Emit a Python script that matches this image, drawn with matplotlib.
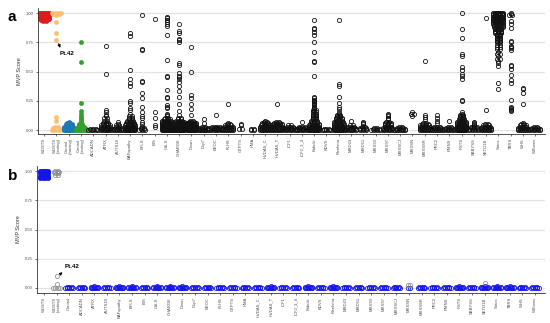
import numpy as np
import matplotlib
matplotlib.use("Agg")
import matplotlib.pyplot as plt

plt.rcParams['font.family'] = ['Liberation Sans', 'DejaVu Sans']

# ---------------- panel a ----------------
cats_a = ['WDSTS', 'WDSTS\n(testing)', 'Control\n(training)', 'Control\n(testing)', 'ADCADN',
          'ATRX', 'AUTS18', 'BAFopathy', 'BFLS', 'BIS', 'CdLS', 'CHARGE', 'Down', 'Dup7',
          'EEOC', 'FLHS', 'GTPTS', 'HMA', 'HVDAS_C', 'HVDAS_T', 'ICF1', 'ICF2_3_4', 'Kabuki',
          'KDVS', 'Kleefstra', 'MRD23', 'MRD51', 'MRX93', 'MRX97', 'MRXSCJ', 'MRXSN',
          'MRXSSR', 'PRC2', 'RMNS', 'RSTS', 'SBBYSS', 'SETD1B', 'Sotos', 'TBRS', 'WHS',
          'Williams']

# each entry: list of (MVP score, number of samples at that score)
scores_a = [
    [(1.00, 9), (0.99, 8), (0.98, 7), (0.97, 6), (0.96, 5), (0.95, 4), (0.94, 3), (0.93, 2)],
    [(1.00, 4), (0.99, 3), (0.98, 1), (0.92, 1), (0.83, 1), (0.77, 1), (0.11, 1), (0.08, 1),
     (0.03, 2), (0.02, 3), (0.01, 3), (0.00, 4)],
    [(0.07, 1), (0.06, 2), (0.05, 3), (0.04, 3), (0.03, 4), (0.02, 6), (0.01, 8), (0.00, 10)],
    [(0.75, 1), (0.58, 1), (0.23, 1), (0.16, 1), (0.14, 1), (0.12, 1), (0.10, 1), (0.09, 1),
     (0.08, 1), (0.07, 1), (0.06, 1), (0.05, 2), (0.04, 2), (0.03, 3), (0.02, 4), (0.01, 6),
     (0.00, 9)],
    [(0.01, 3), (0.00, 5)],
    [(0.72, 1), (0.48, 1), (0.17, 1), (0.15, 1), (0.13, 1), (0.12, 1), (0.10, 2), (0.08, 2),
     (0.06, 3), (0.05, 3), (0.04, 4), (0.03, 4), (0.02, 5), (0.01, 5), (0.00, 6)],
    [(0.07, 1), (0.05, 1), (0.04, 2), (0.03, 2), (0.02, 3), (0.01, 4), (0.00, 6)],
    [(0.83, 1), (0.80, 1), (0.51, 1), (0.44, 1), (0.40, 1), (0.38, 1), (0.25, 1), (0.23, 1),
     (0.19, 1), (0.17, 1), (0.14, 1), (0.12, 2), (0.10, 2), (0.09, 2), (0.08, 3), (0.07, 3),
     (0.06, 4), (0.05, 4), (0.04, 5), (0.03, 6), (0.02, 7), (0.01, 8), (0.00, 9)],
    [(0.98, 1), (0.69, 1), (0.68, 1), (0.42, 1), (0.41, 1), (0.32, 1), (0.27, 1), (0.20, 1),
     (0.15, 1), (0.12, 1), (0.10, 1), (0.07, 1), (0.05, 1), (0.03, 1), (0.02, 2), (0.01, 2),
     (0.00, 3)],
    [(0.95, 1), (0.15, 1), (0.10, 1), (0.04, 1), (0.03, 1)],
    [(0.97, 1), (0.96, 1), (0.94, 1), (0.92, 1), (0.91, 1), (0.89, 1), (0.81, 1), (0.60, 1),
     (0.46, 1), (0.45, 1), (0.34, 1), (0.28, 1), (0.27, 1), (0.21, 1), (0.20, 1), (0.19, 1),
     (0.14, 1), (0.13, 1), (0.12, 1), (0.10, 2), (0.09, 3), (0.08, 4), (0.07, 5), (0.06, 6),
     (0.05, 7), (0.04, 8), (0.03, 9), (0.02, 10), (0.01, 10), (0.00, 10)],
    [(0.91, 1), (0.85, 1), (0.83, 1), (0.78, 1), (0.77, 1), (0.75, 1), (0.57, 1), (0.56, 1),
     (0.49, 1), (0.46, 1), (0.45, 1), (0.44, 1), (0.41, 1), (0.38, 1), (0.33, 1), (0.28, 1),
     (0.22, 1), (0.16, 1), (0.13, 1), (0.10, 2), (0.09, 2), (0.08, 3), (0.07, 4), (0.06, 5),
     (0.05, 6), (0.04, 8), (0.03, 9), (0.02, 10), (0.01, 10), (0.00, 10)],
    [(0.71, 1), (0.50, 1), (0.30, 1), (0.27, 1), (0.22, 1), (0.18, 1), (0.13, 1), (0.08, 2),
     (0.07, 3), (0.06, 5), (0.05, 6), (0.04, 7), (0.03, 8), (0.02, 9), (0.01, 9), (0.00, 9)],
    [(0.09, 1), (0.06, 1), (0.03, 2), (0.02, 4), (0.01, 6), (0.00, 7)],
    [(0.125, 1), (0.03, 4), (0.02, 5), (0.01, 5), (0.00, 5)],
    [(0.22, 1), (0.06, 1), (0.05, 2), (0.04, 3), (0.03, 4), (0.02, 5), (0.01, 6), (0.00, 6)],
    [(0.05, 1), (0.04, 1), (0.01, 2)],
    [(0.01, 2), (0.00, 2)],
    [(0.08, 1), (0.07, 2), (0.06, 3), (0.05, 3), (0.04, 4), (0.03, 5), (0.02, 6), (0.01, 6),
     (0.00, 6)],
    [(0.22, 1), (0.07, 2), (0.06, 3), (0.05, 4), (0.04, 5), (0.03, 5), (0.02, 6), (0.01, 6),
     (0.00, 6)],
    [(0.04, 2), (0.03, 3), (0.02, 4), (0.01, 5), (0.00, 5)],
    [(0.07, 1), (0.03, 3), (0.02, 4), (0.01, 5), (0.00, 5)],
    [(0.94, 1), (0.87, 1), (0.86, 1), (0.84, 1), (0.81, 1), (0.75, 1), (0.67, 1), (0.59, 1),
     (0.58, 1), (0.46, 1), (0.28, 1), (0.27, 1), (0.26, 1), (0.25, 1), (0.24, 1), (0.23, 1),
     (0.22, 1), (0.21, 1), (0.20, 1), (0.19, 1), (0.18, 1), (0.17, 2), (0.16, 1), (0.15, 2),
     (0.14, 2), (0.13, 2), (0.12, 2), (0.11, 2), (0.10, 2), (0.09, 2), (0.08, 3), (0.07, 3),
     (0.06, 3), (0.05, 4), (0.04, 5), (0.03, 6), (0.02, 8), (0.01, 9), (0.00, 10)],
    [(0.01, 3), (0.00, 5)],
    [(0.94, 1), (0.39, 1), (0.38, 1), (0.28, 1), (0.23, 1), (0.20, 1), (0.18, 1), (0.15, 1),
     (0.14, 1), (0.13, 2), (0.12, 2), (0.11, 2), (0.10, 3), (0.09, 3), (0.08, 3), (0.07, 4),
     (0.06, 4), (0.05, 5), (0.04, 5), (0.03, 6), (0.02, 7), (0.01, 7), (0.00, 8)],
    [(0.08, 1), (0.04, 2), (0.03, 3), (0.02, 4), (0.01, 5), (0.00, 5)],
    [(0.07, 1), (0.06, 1), (0.05, 1), (0.03, 2), (0.02, 3), (0.01, 3), (0.00, 3)],
    [(0.02, 2), (0.01, 3), (0.00, 4)],
    [(0.14, 1), (0.13, 1), (0.12, 1), (0.10, 1), (0.09, 1), (0.07, 2), (0.06, 3), (0.05, 3),
     (0.04, 3), (0.03, 3), (0.02, 4), (0.01, 4), (0.00, 5)],
    [(0.03, 2), (0.02, 3), (0.01, 4), (0.00, 6)],
    [(0.15, 1), (0.14, 2), (0.12, 1)],
    [(0.59, 1), (0.13, 1), (0.11, 1), (0.09, 1), (0.06, 2), (0.05, 3), (0.04, 4), (0.03, 5),
     (0.02, 6), (0.01, 6), (0.00, 6)],
    [(0.13, 1), (0.10, 1), (0.08, 1), (0.06, 1), (0.03, 3), (0.02, 4), (0.01, 5), (0.00, 6)],
    [(0.08, 1), (0.03, 2), (0.02, 3), (0.01, 4), (0.00, 5)],
    [(1.00, 1), (0.86, 1), (0.79, 1), (0.65, 1), (0.63, 1), (0.54, 1), (0.51, 1), (0.48, 1),
     (0.46, 1), (0.44, 1), (0.26, 1), (0.25, 1), (0.15, 1), (0.14, 1), (0.13, 2), (0.12, 2),
     (0.11, 2), (0.10, 2), (0.09, 3), (0.08, 3), (0.07, 4), (0.06, 4), (0.05, 5), (0.04, 6),
     (0.03, 7), (0.02, 8), (0.01, 9), (0.00, 10)],
    [(0.07, 1), (0.06, 1), (0.05, 1), (0.04, 1), (0.03, 3), (0.02, 3), (0.01, 4), (0.00, 4)],
    [(0.96, 1), (0.17, 1), (0.05, 2), (0.04, 3), (0.03, 4), (0.02, 5), (0.01, 5), (0.00, 6)],
    [(1.00, 8), (0.99, 8), (0.98, 8), (0.97, 8), (0.96, 7), (0.95, 7), (0.94, 6), (0.93, 6),
     (0.92, 5), (0.91, 5), (0.90, 4), (0.89, 4), (0.88, 4), (0.87, 3), (0.86, 3), (0.85, 3),
     (0.84, 3), (0.83, 3), (0.82, 2), (0.81, 2), (0.80, 2), (0.79, 2), (0.78, 2), (0.77, 2),
     (0.76, 2), (0.75, 2), (0.73, 2), (0.71, 2), (0.69, 2), (0.67, 1), (0.65, 2), (0.63, 1),
     (0.61, 2), (0.59, 1), (0.57, 1), (0.55, 1), (0.40, 1), (0.35, 1)],
    [(1.00, 1), (0.99, 1), (0.98, 2), (0.93, 1), (0.91, 1), (0.87, 1), (0.76, 1), (0.75, 1),
     (0.72, 1), (0.71, 1), (0.70, 1), (0.68, 1), (0.56, 1), (0.55, 1), (0.52, 1), (0.47, 1),
     (0.43, 1), (0.40, 1), (0.26, 1), (0.20, 1), (0.19, 1), (0.18, 1), (0.17, 1), (0.16, 1)],
    [(0.36, 1), (0.35, 1), (0.32, 1), (0.22, 1), (0.06, 1), (0.05, 2), (0.04, 3), (0.03, 3),
     (0.02, 4), (0.01, 5), (0.00, 6)],
    [(0.03, 2), (0.02, 3), (0.01, 4), (0.00, 5)],
]
# fill colour per category (None = open black circles)
fill_a = ['#E31A1C', '#FDBF6F', '#1F78B4', '#33A02C'] + [None] * 37
pt42_a = 0.77

# ---------------- panel b ----------------
cats_b = ['WDSTS', 'WDSTS\n(testing)', 'Control', 'ADCADN', 'ATRX', 'AUTS18', 'BAFopathy',
          'BFLS', 'BIS', 'CdLS', 'CHARGE', 'Down', 'Dup7', 'EEOC', 'FLHS', 'GTPTS', 'HMA',
          'HVDAS_C', 'HVDAS_T', 'ICF1', 'ICF2_3_4', 'Kabuki', 'KDVS', 'Kleefstra', 'MRD23',
          'MRD51', 'MRX93', 'MRX97', 'MRXSCJ', 'MRXSN', 'MRXSSR', 'PRC2', 'RMNS', 'RSTS',
          'SBBYSS', 'SETD1B', 'Sotos', 'TBRS', 'WHS', 'Williams']
small = [(0.01, 3), (0.00, 5)]
bump = [(0.02, 1), (0.01, 4), (0.00, 6)]
scores_b = [
    [(1.00, 6), (0.99, 7), (0.98, 4), (0.97, 3), (0.96, 4), (0.95, 6), (0.94, 4)],
    [],
    small, small, bump, small, bump, bump, small, bump, bump, bump, small, small, small,
    small, small, small, bump, small, small, bump, small, bump, small, small, small, small,
    small, [(0.00, 2)], small, small, small, bump, small, bump, bump, bump, small, small,
]
# grey (open) points drawn on top
grey_b = {1: [(1.00, 2), (0.99, 3), (0.98, 2), (0.97, 2), (0.10, 1), (0.03, 1), (0.00, 4)],
          29: [(0.025, 2)], 35: [(0.04, 1)]}
pt42_b = 0.10


def swarm(pairs, step=0.24, half=0.4):
    xs, ys = [], []
    for v, n in pairs:
        s = step if n < 2 else min(step, 2 * half / (n - 1))
        off = (np.arange(n) - (n - 1) / 2) * s
        xs.extend(off)
        ys.extend([v] * n)
    return np.array(xs), np.array(ys)


def style(ax, cats, ylim):
    ax.set_ylim(*ylim)
    ax.set_yticks([0, 0.25, 0.5, 0.75, 1.0])
    ax.set_yticklabels(['0.00', '0.25', '0.50', '0.75', '1.00'])
    ax.set_xticks(range(len(cats)))
    ax.set_xticklabels(cats, rotation=90, fontsize=3.0, color='#4D4D4D', linespacing=0.9)
    ax.tick_params(axis='y', labelsize=3.0, labelcolor='#4D4D4D', length=1.5, width=0.4, pad=1.5)
    ax.tick_params(axis='x', length=1.5, width=0.4, pad=1.5)
    ax.grid(axis='y', color='#E3E3E3', lw=0.9)
    ax.set_axisbelow(True)
    for s in ['top', 'right']:
        ax.spines[s].set_visible(False)
    for s in ['left', 'bottom']:
        ax.spines[s].set_linewidth(0.6)
        ax.spines[s].set_color('#333333')
    ax.set_ylabel('MVP Score', fontsize=4, color='#333333', labelpad=3)


fig = plt.figure(figsize=(5.5, 3.23), dpi=100)
W, H = 550, 323

ax_a = fig.add_axes([38 / W, 1 - 134 / H, 507 / W, 126 / H])
for i, pairs in enumerate(scores_a):
    dx, y = swarm(pairs)
    c = fill_a[i]
    if c is None:
        ax_a.plot(i + dx, y, 'o', ms=3.0, mfc='none', mec='#111111', mew=0.6)
    else:
        ax_a.plot(i + dx, y, 'o', ms=3.0, mfc=c, mec=c, mew=0.4)
ax_a.set_xlim(-0.5, 40.8)
style(ax_a, cats_a, (-0.034, 1.043))
ax_a.annotate('', xy=(1.4, pt42_a - 0.09), xytext=(1.1, pt42_a - 0.01),
              arrowprops=dict(arrowstyle='-|>', color='black', lw=0.7, mutation_scale=4))
ax_a.text(1.25, pt42_a - 0.12, 'Pt.42', fontsize=4.5, weight='bold', va='center')

ax_b = fig.add_axes([37 / W, 1 - 293 / H, 508 / W, 127 / H])
for i, pairs in enumerate(scores_b):
    if pairs:
        dx, y = swarm(pairs, step=0.2, half=0.3)
        if i == 0:
            ax_b.plot(i + dx, y, 'o', ms=3.0, mfc='#1515E8', mec='#1515E8', mew=0.5)
        else:
            ax_b.plot(i + dx, y, 'o', ms=3.0, mfc='none', mec='#1515E8', mew=0.6)
    if i in grey_b:
        dx, y = swarm(grey_b[i], step=0.2, half=0.3)
        ax_b.plot(i + dx, y, 'o', ms=3.0, mfc='none', mec='#8C8C8C', mew=0.55)
ax_b.set_xlim(-0.55, 39.8)
style(ax_b, cats_b, (-0.043, 1.043))
ax_b.annotate('', xy=(1.65, pt42_b + 0.05), xytext=(1.15, pt42_b + 0.005),
              arrowprops=dict(arrowstyle='-|>', color='black', lw=0.7, mutation_scale=4))
ax_b.text(1.65, pt42_b + 0.08, 'Pt.42', fontsize=4.5, weight='bold', va='center')

fig.text(8 / W, 1 - 17 / H, 'a', fontsize=11, weight='bold', va='center')
fig.text(8 / W, 1 - 176 / H, 'b', fontsize=11, weight='bold', va='center')

fig.savefig('out.png', dpi=100)
